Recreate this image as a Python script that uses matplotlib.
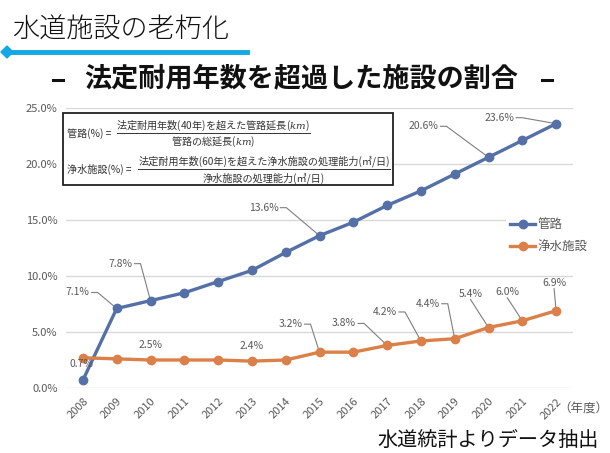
import matplotlib
matplotlib.use("Agg")
import matplotlib.pyplot as plt
from matplotlib.transforms import Affine2D
from matplotlib.patches import Rectangle, RegularPolygon
from matplotlib.lines import Line2D
from matplotlib.ticker import FuncFormatter

plt.rcParams['font.family'] = ['Noto Sans CJK JP', 'DejaVu Sans']
plt.rcParams['mathtext.fontset'] = 'dejavuserif'

# data
years = [str(y) for y in range(2008, 2023)]
pipes = [0.7, 7.1, 7.8, 8.5, 9.5, 10.5, 12.1, 13.6, 14.8, 16.3, 17.6, 19.1, 20.6, 22.1, 23.6]
plants = [2.7, 2.6, 2.5, 2.5, 2.5, 2.4, 2.5, 3.2, 3.2, 3.8, 4.2, 4.4, 5.4, 6.0, 6.9]
series_names = ['管路', '浄水施設']
yticks = [0, 5, 10, 15, 20, 25]

# which points get a data label
pipe_lbl_idx = [0, 1, 2, 7, 12, 14]
plant_lbl_idx = [2, 5, 7, 9, 10, 11, 12, 13, 14]

# label placement (offset in px from the point, leader style)
pipe_lbl_pos = [(-1, 16, None), (-39, 16, 'r'), (-30, 37, 'r'), (-56, 28, 'r'),
                (-65, 31, 'r'), (-57, 6, 'r')]
plant_lbl_pos = [(0, 15, None), (0, 15, None), (-29, 28, 'r'), (-43, 22, 'r'),
                 (-36, 29, 'r'), (-27, 35, 'r'), (-18, 34, 'b'), (-15, 29, 'b'),
                 (-2, 28, 'b')]

blue = '#5470A6'
orange = '#DA8048'
gray = '#595959'
W, H = 610, 453

fig = plt.figure(figsize=(W / 100, H / 100), dpi=100)
px = Affine2D().scale(1 / W, -1 / H).translate(0, 1) + fig.transFigure

ax = fig.add_axes([66 / W, (H - 388) / H, (573 - 66) / W, (388 - 108) / H])
x = list(range(len(years)))
ax.plot(x, pipes, color=blue, lw=2.4, marker='o', ms=6, label=series_names[0], zorder=4)
ax.plot(x, plants, color=orange, lw=2.4, marker='o', ms=6, label=series_names[1], zorder=4)

ax.set_xlim(-0.5, len(years) - 0.5)
ax.set_ylim(0, 25)
ax.set_yticks(yticks)
ax.yaxis.set_major_formatter(FuncFormatter(lambda v, p: f'{v:.1f}%'))
ax.set_xticks(x)
ax.set_xticklabels(years, rotation=45, ha='right', rotation_mode='anchor')
ax.tick_params(length=0, colors=gray, labelsize=8, pad=6)
ax.grid(axis='y', color='#D9D9D9', lw=1)
ax.set_axisbelow(True)
for s in ax.spines.values():
    s.set_visible(False)

# data labels
labels = []
for idx_list, pos_list, vals in [(pipe_lbl_idx, pipe_lbl_pos, pipes),
                                 (plant_lbl_idx, plant_lbl_pos, plants)]:
    for i, (dx, dy, style) in zip(idx_list, pos_list):
        t = ax.annotate(f'{vals[i]:.1f}%', xy=(i, vals[i]), xytext=(dx, dy),
                        textcoords='offset pixels', ha='center', va='center',
                        fontsize=7.5, color=gray, zorder=6)
        labels.append((t, i, vals[i], style))

leg = ax.legend(loc='upper left', bbox_to_anchor=(500 / W, 1 - 208 / H),
                bbox_transform=fig.transFigure, frameon=True, fontsize=9,
                handlelength=2.0, handletextpad=0.2, labelspacing=0.75,
                borderpad=0.3, labelcolor=gray)
leg.get_frame().set_facecolor('white')
leg.get_frame().set_edgecolor('none')
leg.get_frame().set_alpha(1)
leg.set_zorder(5)

# leader lines
fig.canvas.draw()
r = fig.canvas.get_renderer()
inv = ax.transData.inverted()
for t, i, v, style in labels:
    if style is None:
        continue
    bb = t.get_window_extent(r)
    p = ax.transData.transform((i, v))
    if style == 'r':
        a = (bb.x1 + 2, (bb.y0 + bb.y1) / 2)
        b = (bb.x1 + 8, (bb.y0 + bb.y1) / 2)
        pts = [a, b, p]
    else:
        a = ((bb.x0 + bb.x1) / 2, bb.y0 - 1)
        pts = [a, p]
    d = inv.transform(pts)
    ax.plot(d[:, 0], d[:, 1], color='#7F7F7F', lw=0.8, zorder=3, clip_on=False)

# titles
fig.text(12, 30, '水道施設の老朽化', transform=px, fontsize=19.5, weight='light',
         ha='left', va='center', color='#111111')
fig.add_artist(Line2D([6, 247], [52, 52], transform=px, color='#12A8E4', lw=3.5))
fig.add_artist(RegularPolygon((7, 52), 4, radius=6, transform=px, color='#12A8E4'))
fig.text(301, 78, '法定耐用年数を超過した施設の割合', transform=px, fontsize=19.5,
         weight='bold', ha='center', va='center', color='#111111')
fig.add_artist(Line2D([53, 63], [80, 80], transform=px, color='#111111', lw=2.2))
fig.add_artist(Line2D([542, 552], [80, 80], transform=px, color='#111111', lw=2.2))

# formula box
fig.add_artist(Rectangle((63, 113), 330, 72, transform=px, facecolor='white',
                         edgecolor='#222222', lw=1.3, zorder=5))
ftxt = dict(transform=px, fontsize=7.3, color='#333333', va='center', zorder=6)
fig.text(67, 134, '管路(%) =', ha='left', **ftxt)
fig.text(213, 126, '法定耐用年数(40年)を超えた管路延長($km$)', ha='center', **ftxt)
fig.add_artist(Line2D([117, 310], [133, 133], transform=px, color='#333333', lw=0.7, zorder=6))
fig.text(213, 142, '管路の総延長($km$)', ha='center', **ftxt)
fig.text(67, 169, '浄水施設(%) =', ha='left', **ftxt)
fig.text(264, 161, '法定耐用年数(60年)を超えた浄水施設の処理能力(㎥/日)', ha='center', **ftxt)
fig.add_artist(Line2D([138, 390], [169, 169], transform=px, color='#333333', lw=0.7, zorder=6))
fig.text(264, 178, '浄水施設の処理能力(㎥/日)', ha='center', **ftxt)

# footer
fig.text(608, 409, '（年度）', transform=px, fontsize=9, color=gray, ha='right', va='center')
fig.text(599, 440, '水道統計よりデータ抽出', transform=px, fontsize=14.5, color='#111111',
         ha='right', va='center')

fig.savefig('out.png', dpi=100)
